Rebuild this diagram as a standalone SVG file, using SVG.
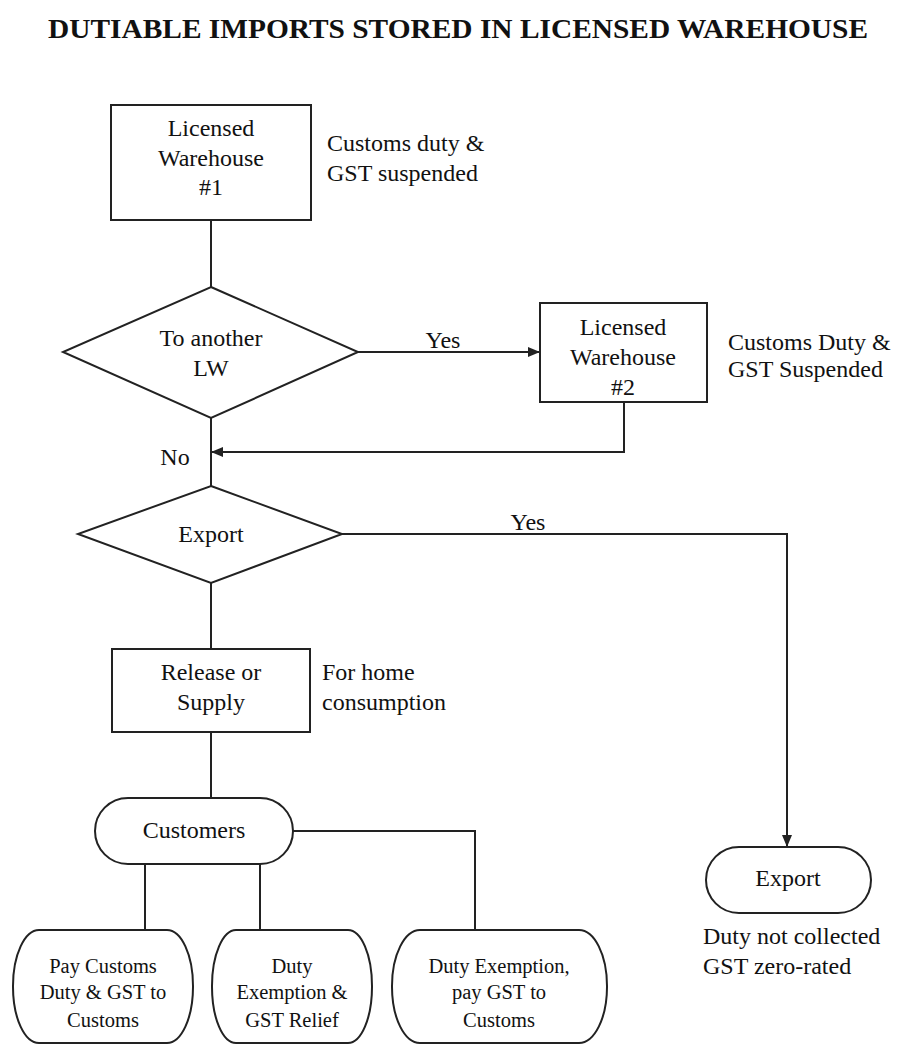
<svg xmlns="http://www.w3.org/2000/svg" width="898" height="1045" viewBox="0 0 898 1045">
<style>
.s{fill:#fff;stroke:#222;stroke-width:2}
.c{fill:none;stroke:#222;stroke-width:2}
text{font-family:"Liberation Serif","Times New Roman",serif;fill:#111;font-size:24px}
.m{text-anchor:middle}
.sm{font-size:20.5px;text-anchor:middle}
.t{font-size:27px;font-weight:bold;text-anchor:middle}
</style>
<defs>
<marker id="ah" markerWidth="12" markerHeight="10" refX="11" refY="5" orient="auto" markerUnits="userSpaceOnUse">
<path d="M0,0 L12,5 L0,10 Z" fill="#222"/>
</marker>
</defs>
<rect width="898" height="1045" fill="#fff"/>
<text class="t" x="458" y="38" textLength="820" lengthAdjust="spacingAndGlyphs">DUTIABLE IMPORTS STORED IN LICENSED WAREHOUSE</text>

<g id="connectors">
<path class="c" d="M211,220 V287"/>
<path class="c" d="M358,352 H539" marker-end="url(#ah)"/>
<path class="c" d="M624,402 V452 H212" marker-end="url(#ah)"/>
<path class="c" d="M211,418 V486"/>
<path class="c" d="M342,534 H787 V846" marker-end="url(#ah)"/>
<path class="c" d="M211,583 V649"/>
<path class="c" d="M211,732 V798"/>
<path class="c" d="M293,831 H475 V930"/>
<path class="c" d="M145,864 V930"/>
<path class="c" d="M260,864 V930"/>
<text class="m" x="443" y="348">Yes</text>
<text class="m" x="175" y="465">No</text>
<text class="m" x="528" y="530">Yes</text>
</g>

<g id="lw1">
<rect class="s" x="111" y="105" width="200" height="115"/>
<text class="m" x="211" y="136">Licensed</text>
<text class="m" x="211" y="166">Warehouse</text>
<text class="m" x="211" y="195">#1</text>
</g>
<g id="note-lw1">
<text x="327" y="151">Customs duty &amp;</text>
<text x="327" y="181">GST suspended</text>
</g>

<g id="d-another">
<polygon class="s" points="211,287 358,352 211,418 63,352"/>
<text class="m" x="211" y="346">To another</text>
<text class="m" x="211" y="376">LW</text>
</g>

<g id="lw2">
<rect class="s" x="540" y="303" width="167" height="99"/>
<text class="m" x="623" y="335">Licensed</text>
<text class="m" x="623" y="365">Warehouse</text>
<text class="m" x="623" y="395">#2</text>
</g>
<g id="note-lw2">
<text x="728" y="350">Customs Duty &amp;</text>
<text x="728" y="377">GST Suspended</text>
</g>

<g id="d-export">
<polygon class="s" points="211,486 342,534 211,583 78,534"/>
<text class="m" x="211" y="542">Export</text>
</g>

<g id="release">
<rect class="s" x="112" y="649" width="198" height="83"/>
<text class="m" x="211" y="680">Release or</text>
<text class="m" x="211" y="710">Supply</text>
</g>
<g id="note-release">
<text x="322" y="680">For home</text>
<text x="322" y="710">consumption</text>
</g>

<g id="customers">
<rect class="s" x="95" y="798" width="198" height="66" rx="33" ry="33"/>
<text class="m" x="194" y="838">Customers</text>
</g>

<g id="pay">
<rect class="s" x="13" y="930" width="180" height="113" rx="26" ry="56"/>
<text class="sm" x="103" y="973">Pay Customs</text>
<text class="sm" x="103" y="999">Duty &amp; GST to</text>
<text class="sm" x="103" y="1027">Customs</text>
</g>

<g id="relief">
<rect class="s" x="212" y="930" width="160" height="113" rx="24" ry="56"/>
<text class="sm" x="292" y="973">Duty</text>
<text class="sm" x="292" y="999">Exemption &amp;</text>
<text class="sm" x="292" y="1027">GST Relief</text>
</g>

<g id="exemption">
<rect class="s" x="392" y="930" width="215" height="113" rx="28" ry="56"/>
<text class="sm" x="499" y="973">Duty Exemption,</text>
<text class="sm" x="499" y="999">pay GST to</text>
<text class="sm" x="499" y="1027">Customs</text>
</g>

<g id="export-end">
<rect class="s" x="706" y="847" width="165" height="66" rx="33" ry="33"/>
<text class="m" x="788" y="886">Export</text>
</g>
<g id="note-export">
<text x="703" y="944">Duty not collected</text>
<text x="703" y="974">GST zero-rated</text>
</g>
</svg>
